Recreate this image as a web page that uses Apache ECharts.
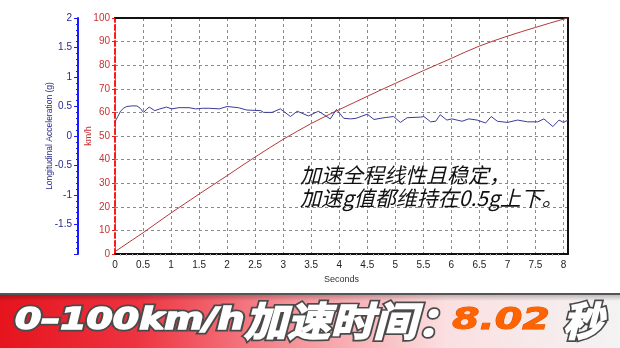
<!DOCTYPE html>
<html>
<head>
<meta charset="utf-8">
<script src="https://cdn.jsdelivr.net/npm/echarts@6/dist/echarts.min.js"></script>
<style>html,body{margin:0;padding:0;background:#fff;}#c{width:620px;height:348px;}</style>
</head>
<body>
<div id="c"></div>
<script>
// ---- data ----
const speedTime = [0, 0.25, 0.5, 0.75, 1.0, 1.25, 1.5, 1.75, 2.0, 2.25, 2.5, 2.75, 3.0, 3.25, 3.5, 3.75, 4.0, 4.25, 4.5, 4.75, 5.0, 5.25, 5.5, 5.75, 6.0, 6.25, 6.5, 6.75, 7.0, 7.25, 7.5, 7.75, 8.0, 8.07];
const speedKmh = [1, 5, 9, 13.2, 17.4, 21.4, 25.4, 29.3, 33.2, 37.2, 41.1, 44.9, 48.6, 52.0, 55.3, 58.3, 61.2, 64.0, 66.8, 69.6, 72.3, 75.0, 77.7, 80.3, 82.9, 85.6, 88.1, 90.3, 92.3, 94.2, 96.0, 97.8, 99.5, 100];
const accTime = [0.00, 0.05, 0.10, 0.15, 0.21, 0.30, 0.39, 0.45, 0.51, 0.56, 0.61, 0.71, 0.80, 0.92, 1.01, 1.14, 1.32, 1.44, 1.56, 1.68, 1.86, 2.00, 2.20, 2.35, 2.60, 2.65, 2.80, 2.95, 3.13, 3.25, 3.45, 3.63, 3.84, 3.95, 4.08, 4.20, 4.30, 4.50, 4.62, 4.80, 4.97, 5.09, 5.21, 5.45, 5.51, 5.63, 5.72, 5.80, 5.92, 6.01, 6.19, 6.31, 6.46, 6.61, 6.71, 6.82, 7.00, 7.18, 7.36, 7.54, 7.65, 7.81, 7.92, 8.00, 8.08];
const accG = [0.24, 0.33, 0.42, 0.47, 0.50, 0.51, 0.51, 0.47, 0.40, 0.45, 0.49, 0.43, 0.46, 0.49, 0.46, 0.48, 0.48, 0.46, 0.47, 0.47, 0.46, 0.50, 0.48, 0.44, 0.43, 0.40, 0.40, 0.46, 0.33, 0.42, 0.34, 0.42, 0.29, 0.45, 0.30, 0.29, 0.30, 0.37, 0.28, 0.31, 0.33, 0.23, 0.31, 0.32, 0.33, 0.24, 0.25, 0.36, 0.27, 0.29, 0.25, 0.29, 0.27, 0.22, 0.33, 0.25, 0.23, 0.27, 0.24, 0.24, 0.29, 0.16, 0.27, 0.23, 0.27];
const noteLines = ['加速全程线性且稳定，', '加速g值都维持在0.5g上下。'];
const bannerParts = ['0–100km/h', '加速时间：', '8.02', '秒'];

const speedData = speedTime.map((t, i) => [t, speedKmh[i]]);
const accData = accTime.map((t, i) => [t, accG[i]]);

const chart = echarts.init(document.getElementById('c'), null, {renderer: 'canvas'});
const lblFont = 'Liberation Sans';
const mid = {verticalAlign: 'middle', textVerticalAlign: 'middle'};
const latinFont = 'italic bold 31px "DejaVu Sans"';
const cjkFont = 'italic bold 40px "Noto Sans CJK SC"';

function outlinedText(text, x, font, scaleX) {
  // back layer: dark outline + shadow, front layer: white emboldened fill
  return [
    {type: 'text', x: x, y: 321, scaleX: scaleX, z: 11, style: Object.assign({text: text, fill: '#fff', font: font, stroke: '#4a4a4a', lineWidth: 5, shadowColor: 'rgba(0,0,0,0.45)', shadowBlur: 2, shadowOffsetX: 1.5, shadowOffsetY: 1.5}, mid)},
    {type: 'text', x: x, y: 321, scaleX: scaleX, z: 12, style: Object.assign({text: text, fill: '#fff', font: font, stroke: '#fff', lineWidth: 1.6}, mid)}
  ];
}

const graphics = [
  {type: 'text', x: 300, y: 175, z: 10, style: Object.assign({text: noteLines[0], fill: '#111', font: 'italic 21px "Noto Sans CJK SC"', shadowColor: 'rgba(255,255,140,0.95)', shadowBlur: 6}, mid)},
  {type: 'text', x: 300, y: 198, z: 10, style: Object.assign({text: noteLines[1], fill: '#111', font: 'italic 21px "Noto Sans CJK SC"', shadowColor: 'rgba(255,255,140,0.95)', shadowBlur: 6}, mid)},
  {type: 'rect', x: 0, y: 293, z: 10, shape: {width: 620, height: 2}, style: {fill: '#555'}},
  {type: 'rect', x: 0, y: 295, z: 10, shape: {width: 620, height: 53}, style: {fill: new echarts.graphic.LinearGradient(0, 0, 1, 0, [
    {offset: 0, color: '#e5141d'}, {offset: 0.22, color: '#ee3340'}, {offset: 0.48, color: '#f6959c'}, {offset: 0.72, color: '#fbdfe1'}, {offset: 1, color: '#f3f3f3'}])}},
  {type: 'rect', x: 0, y: 295, z: 10, shape: {width: 620, height: 6}, style: {fill: new echarts.graphic.LinearGradient(0, 0, 0, 1, [
    {offset: 0, color: 'rgba(0,0,0,0.22)'}, {offset: 1, color: 'rgba(0,0,0,0)'}])}}
].concat(
  outlinedText(bannerParts[0], 15, latinFont, 1.22),
  outlinedText(bannerParts[1], 244, cjkFont, 1.08),
  [{type: 'text', x: 452, y: 321, scaleX: 1.28, z: 11, style: Object.assign({text: bannerParts[2], fill: '#ff6400', font: latinFont, stroke: '#e05200', lineWidth: 1}, mid)}],
  outlinedText(bannerParts[3], 563, cjkFont, 1.0)
);

chart.setOption({
  animation: false,
  backgroundColor: '#ffffff',
  grid: {left: 115, top: 18, width: 453, height: 236, show: false},
  xAxis: [{
    type: 'value', min: 0, max: 8.08, interval: 0.5,
    name: 'Seconds', nameLocation: 'middle', nameGap: 21, nameMoveOverlap: false,
    nameTextStyle: {color: '#333', fontSize: 9, fontFamily: lblFont},
    axisLine: {show: true, onZero: false, lineStyle: {color: '#111', width: 2}},
    axisTick: {show: false},
    minorTick: {show: true, splitNumber: 5, length: 2, lineStyle: {color: '#bbb'}},
    axisLabel: {showMaxLabel: false, margin: 6, color: '#222', fontSize: 10, fontFamily: lblFont},
    splitLine: {show: true, lineStyle: {color: '#8a8a8a', type: [3, 3], width: 1}}
  }, {
    type: 'value', min: 0, max: 8.08, position: 'top',
    axisLine: {show: true, onZero: false, lineStyle: {color: '#111', width: 2}},
    axisTick: {show: false}, axisLabel: {show: false}, splitLine: {show: false}
  }],
  yAxis: [{
    type: 'value', min: 0, max: 100, interval: 10, position: 'left',
    name: 'km/h', nameLocation: 'middle', nameGap: 22, nameMoveOverlap: false,
    nameTextStyle: {color: '#c83232', fontSize: 9, fontFamily: lblFont},
    axisLine: {show: true, onZero: false, lineStyle: {color: '#ff1a1a', width: 2, type: [5, 3]}},
    axisTick: {show: true, length: 3, lineStyle: {color: '#e02020'}},
    axisLabel: {margin: 5, color: '#c83232', fontSize: 10, fontFamily: lblFont},
    splitLine: {show: true, lineStyle: {color: '#8a8a8a', type: [3, 3], width: 1}}
  }, {
    type: 'value', min: -2, max: 2, interval: 0.5, position: 'left', offset: 37,
    name: 'Longitudinal Acceleration (g)', nameLocation: 'middle', nameGap: 24, nameMoveOverlap: false,
    nameTextStyle: {color: '#2a2a8a', fontSize: 8.5, fontFamily: lblFont},
    axisLine: {show: true, onZero: false, lineStyle: {color: '#1a1aff', width: 2}},
    axisTick: {show: true, length: 4, lineStyle: {color: '#1a1aff'}},
    minorTick: {show: true, splitNumber: 5, length: 2, lineStyle: {color: '#1a1aff'}},
    axisLabel: {showMinLabel: false, margin: 6, color: '#2a2a8a', fontSize: 10, fontFamily: lblFont},
    splitLine: {show: false}
  }, {
    type: 'value', min: 0, max: 100, position: 'right',
    axisLine: {show: true, onZero: false, lineStyle: {color: '#111', width: 2}},
    axisTick: {show: false}, axisLabel: {show: false}, splitLine: {show: false}
  }],
  series: [{
    type: 'line', name: 'speed', xAxisIndex: 0, yAxisIndex: 0, data: speedData,
    showSymbol: false, symbol: 'none', lineStyle: {color: '#b23a3a', width: 1}, z: 3
  }, {
    type: 'line', name: 'acc', xAxisIndex: 0, yAxisIndex: 1, data: accData,
    showSymbol: false, symbol: 'none', lineStyle: {color: '#3b3b9c', width: 1}, z: 4
  }],
  graphic: graphics
});
</script>
</body>
</html>
